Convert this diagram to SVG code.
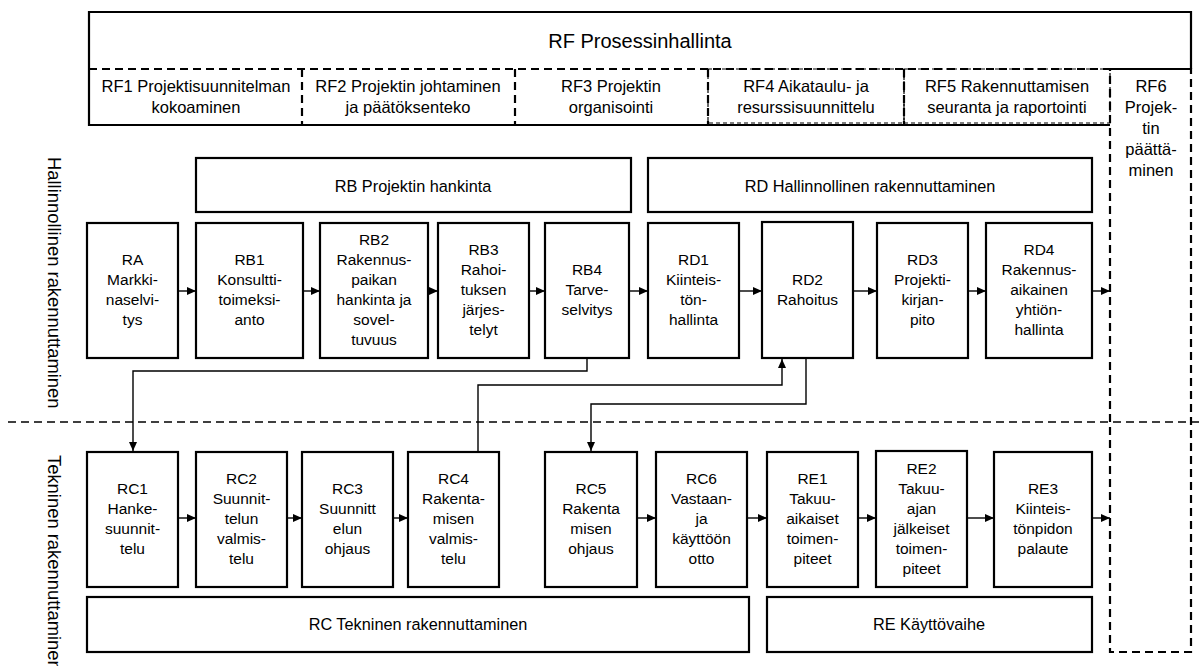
<svg xmlns="http://www.w3.org/2000/svg" width="1203" height="666" viewBox="0 0 1203 666">
<defs>
<style>
text{font-family:"Liberation Sans",Arial,sans-serif;fill:#000;text-anchor:middle}
.n{font-size:15.5px}
.h{font-size:16.3px}
.f{font-size:16.5px}
.t{font-size:20px}
.s{font-size:18.4px;text-anchor:start}
.box{fill:#fff;stroke:#000;stroke-width:2.2}
.solid{fill:none;stroke:#000;stroke-width:2.2}
.dash{fill:none;stroke:#000;stroke-width:2.2;stroke-dasharray:8 5}
.dthin{fill:none;stroke:#000;stroke-width:1.2;stroke-dasharray:4 3}
.sep{fill:none;stroke:#000;stroke-width:1.5;stroke-dasharray:8 5}
.c{fill:none;stroke:#000;stroke-width:1.4}
</style>
<marker id="ah" markerWidth="10" markerHeight="10" refX="9" refY="5" orient="auto" markerUnits="userSpaceOnUse"><path d="M0,1 L9,5 L0,9 z" fill="#000"/></marker>
</defs>
<rect width="1203" height="666" fill="#fff"/>

<g id="separator">
<line class="sep" x1="8" y1="422" x2="1203" y2="422"/>
</g>

<g id="side-labels">
<text class="s" transform="translate(48,157) rotate(90)">Hallinnollinen rakennuttaminen</text>
<text class="s" transform="translate(48,455) rotate(90)">Tekninen rakennuttaminen</text>
</g>

<g id="RF">
<path class="solid" d="M1110,125 H89 V12 H1191 V69"/>
<text class="t" x="640" y="48">RF Prosessinhallinta</text>
<line class="dash" x1="89" y1="69" x2="1191" y2="69"/>
</g>
<g id="RF1"><text class="f" x="196" y="92">RF1 Projektisuunnitelman</text><text class="f" x="196" y="113">kokoaminen</text></g>
<g id="RF2"><line class="dash" x1="302" y1="69" x2="302" y2="125"/><text class="f" x="408" y="92">RF2 Projektin johtaminen</text><text class="f" x="408" y="113">ja päätöksenteko</text></g>
<g id="RF3"><line class="dash" x1="515" y1="69" x2="515" y2="125"/><text class="f" x="611" y="92">RF3 Projektin</text><text class="f" x="611" y="113">organisointi</text></g>
<g id="RF4"><rect class="dthin" x="708" y="69" width="196" height="54"/><line class="dash" x1="708" y1="69" x2="708" y2="125"/><text class="f" x="806" y="92">RF4 Aikataulu- ja</text><text class="f" x="806" y="113">resurssisuunnittelu</text></g>
<g id="RF5"><rect class="dthin" x="904" y="69" width="206" height="54"/><line class="dash" x1="904" y1="69" x2="904" y2="125"/><text class="f" x="1007" y="92">RF5 Rakennuttamisen</text><text class="f" x="1007" y="113">seuranta ja raportointi</text></g>
<g id="RF6"><rect class="dash" x="1110" y="69" width="81" height="583"/>
<text class="f" x="1151" y="92">RF6</text><text class="f" x="1151" y="113">Projek-</text><text class="f" x="1151" y="134">tin</text><text class="f" x="1151" y="155">päättä-</text><text class="f" x="1151" y="176">minen</text></g>

<g id="RB"><rect class="box" x="196" y="158" width="435" height="54"/><text class="h" x="413" y="192">RB Projektin hankinta</text></g>
<g id="RD"><rect class="box" x="648" y="158" width="444" height="54"/><text class="h" x="870" y="192">RD Hallinnollinen rakennuttaminen</text></g>
<g id="RC"><rect class="box" x="87" y="597" width="662" height="55"/><text class="h" x="418" y="630">RC Tekninen rakennuttaminen</text></g>
<g id="RE"><rect class="box" x="767" y="597" width="325" height="55"/><text class="h" x="929" y="630">RE Käyttövaihe</text></g>

<g id="RA"><rect class="box" x="87" y="223" width="91" height="135"/><text class="n" x="132.5"><tspan x="132.5" y="264.5">RA</tspan><tspan x="132.5" y="284.5">Markki-</tspan><tspan x="132.5" y="304.5">naselvi-</tspan><tspan x="132.5" y="324.5">tys</tspan></text></g>
<g id="RB1"><rect class="box" x="196" y="223" width="107" height="135"/><text class="n"><tspan x="249.5" y="264.5">RB1</tspan><tspan x="249.5" y="284.5">Konsultti-</tspan><tspan x="249.5" y="304.5">toimeksi-</tspan><tspan x="249.5" y="324.5">anto</tspan></text></g>
<g id="RB2"><rect class="box" x="320" y="223" width="108" height="135"/><text class="n"><tspan x="374" y="244.5">RB2</tspan><tspan x="374" y="264.5">Rakennus-</tspan><tspan x="374" y="284.5">paikan</tspan><tspan x="374" y="304.5">hankinta ja</tspan><tspan x="374" y="324.5">sovel-</tspan><tspan x="374" y="344.5">tuvuus</tspan></text></g>
<g id="RB3"><rect class="box" x="438" y="223" width="91" height="135"/><text class="n"><tspan x="483.5" y="254.5">RB3</tspan><tspan x="483.5" y="274.5">Rahoi-</tspan><tspan x="483.5" y="294.5">tuksen</tspan><tspan x="483.5" y="314.5">järjes-</tspan><tspan x="483.5" y="334.5">telyt</tspan></text></g>
<g id="RB4"><rect class="box" x="545" y="223" width="84" height="135"/><text class="n"><tspan x="587" y="274.5">RB4</tspan><tspan x="587" y="294.5">Tarve-</tspan><tspan x="587" y="314.5">selvitys</tspan></text></g>
<g id="RD1"><rect class="box" x="648" y="223" width="91" height="135"/><text class="n"><tspan x="693.5" y="264.5">RD1</tspan><tspan x="693.5" y="284.5">Kiinteis-</tspan><tspan x="693.5" y="304.5">tön-</tspan><tspan x="693.5" y="324.5">hallinta</tspan></text></g>
<g id="RD2"><rect class="box" x="762" y="222" width="91" height="136"/><text class="n"><tspan x="807.5" y="284.5">RD2</tspan><tspan x="807.5" y="304.5">Rahoitus</tspan></text></g>
<g id="RD3"><rect class="box" x="877" y="223" width="91" height="135"/><text class="n"><tspan x="922.5" y="264.5">RD3</tspan><tspan x="922.5" y="284.5">Projekti-</tspan><tspan x="922.5" y="304.5">kirjan-</tspan><tspan x="922.5" y="324.5">pito</tspan></text></g>
<g id="RD4"><rect class="box" x="986" y="223" width="106" height="135"/><text class="n"><tspan x="1039" y="254.5">RD4</tspan><tspan x="1039" y="274.5">Rakennus-</tspan><tspan x="1039" y="294.5">aikainen</tspan><tspan x="1039" y="314.5">yhtiön-</tspan><tspan x="1039" y="334.5">hallinta</tspan></text></g>

<g id="RC1"><rect class="box" x="87" y="452" width="91" height="135"/><text class="n"><tspan x="132.5" y="493.5">RC1</tspan><tspan x="132.5" y="513.5">Hanke-</tspan><tspan x="132.5" y="533.5">suunnit-</tspan><tspan x="132.5" y="553.5">telu</tspan></text></g>
<g id="RC2"><rect class="box" x="196" y="452" width="91" height="135"/><text class="n"><tspan x="241.5" y="483.5">RC2</tspan><tspan x="241.5" y="503.5">Suunnit-</tspan><tspan x="241.5" y="523.5">telun</tspan><tspan x="241.5" y="543.5">valmis-</tspan><tspan x="241.5" y="563.5">telu</tspan></text></g>
<g id="RC3"><rect class="box" x="302" y="452" width="91" height="135"/><text class="n"><tspan x="347.5" y="493.5">RC3</tspan><tspan x="347.5" y="513.5">Suunnitt</tspan><tspan x="347.5" y="533.5">elun</tspan><tspan x="347.5" y="553.5">ohjaus</tspan></text></g>
<g id="RC4"><rect class="box" x="408" y="452" width="91" height="135"/><text class="n"><tspan x="453.5" y="483.5">RC4</tspan><tspan x="453.5" y="503.5">Rakenta-</tspan><tspan x="453.5" y="523.5">misen</tspan><tspan x="453.5" y="543.5">valmis-</tspan><tspan x="453.5" y="563.5">telu</tspan></text></g>
<g id="RC5"><rect class="box" x="545" y="452" width="92" height="135"/><text class="n"><tspan x="591" y="493.5">RC5</tspan><tspan x="591" y="513.5">Rakenta</tspan><tspan x="591" y="533.5">misen</tspan><tspan x="591" y="553.5">ohjaus</tspan></text></g>
<g id="RC6"><rect class="box" x="656" y="452" width="91" height="135"/><text class="n"><tspan x="701.5" y="483.5">RC6</tspan><tspan x="701.5" y="503.5">Vastaan-</tspan><tspan x="701.5" y="523.5">ja</tspan><tspan x="701.5" y="543.5">käyttöön</tspan><tspan x="701.5" y="563.5">otto</tspan></text></g>
<g id="RE1"><rect class="box" x="767" y="452" width="91" height="135"/><text class="n"><tspan x="812.5" y="483.5">RE1</tspan><tspan x="812.5" y="503.5">Takuu-</tspan><tspan x="812.5" y="523.5">aikaiset</tspan><tspan x="812.5" y="543.5">toimen-</tspan><tspan x="812.5" y="563.5">piteet</tspan></text></g>
<g id="RE2"><rect class="box" x="876" y="451" width="91" height="136"/><text class="n"><tspan x="921.5" y="473.5">RE2</tspan><tspan x="921.5" y="493.5">Takuu-</tspan><tspan x="921.5" y="513.5">ajan</tspan><tspan x="921.5" y="533.5">jälkeiset</tspan><tspan x="921.5" y="553.5">toimen-</tspan><tspan x="921.5" y="573.5">piteet</tspan></text></g>
<g id="RE3"><rect class="box" x="994" y="452" width="98" height="135"/><text class="n"><tspan x="1043" y="493.5">RE3</tspan><tspan x="1043" y="513.5">Kiinteis-</tspan><tspan x="1043" y="533.5">tönpidon</tspan><tspan x="1043" y="553.5">palaute</tspan></text></g>

<g id="connectors">
<line class="c" x1="178" y1="291" x2="196" y2="291" marker-end="url(#ah)"/>
<line class="c" x1="303" y1="291" x2="320" y2="291" marker-end="url(#ah)"/>
<line class="c" x1="428" y1="291" x2="438" y2="291" marker-end="url(#ah)"/>
<line class="c" x1="529" y1="291" x2="545" y2="291" marker-end="url(#ah)"/>
<line class="c" x1="629" y1="291" x2="648" y2="291" marker-end="url(#ah)"/>
<line class="c" x1="739" y1="291" x2="762" y2="291" marker-end="url(#ah)"/>
<line class="c" x1="853" y1="291" x2="877" y2="291" marker-end="url(#ah)"/>
<line class="c" x1="968" y1="291" x2="986" y2="291" marker-end="url(#ah)"/>
<line class="c" x1="1092" y1="291" x2="1110" y2="291" marker-end="url(#ah)"/>
<line class="c" x1="178" y1="518" x2="196" y2="518" marker-end="url(#ah)"/>
<line class="c" x1="287" y1="518" x2="302" y2="518" marker-end="url(#ah)"/>
<line class="c" x1="393" y1="518" x2="408" y2="518" marker-end="url(#ah)"/>
<line class="c" x1="637" y1="518" x2="656" y2="518" marker-end="url(#ah)"/>
<line class="c" x1="747" y1="518" x2="767" y2="518" marker-end="url(#ah)"/>
<line class="c" x1="858" y1="518" x2="876" y2="518" marker-end="url(#ah)"/>
<line class="c" x1="967" y1="518" x2="994" y2="518" marker-end="url(#ah)"/>
<line class="c" x1="1092" y1="518" x2="1110" y2="518" marker-end="url(#ah)"/>
<path class="c" d="M587,358 V371 H133 V451" marker-end="url(#ah)"/>
<path class="c" d="M478,452 V385 H782 V359" marker-end="url(#ah)"/>
<path class="c" d="M806,358 V404 H591 V451" marker-end="url(#ah)"/>
</g>
</svg>
